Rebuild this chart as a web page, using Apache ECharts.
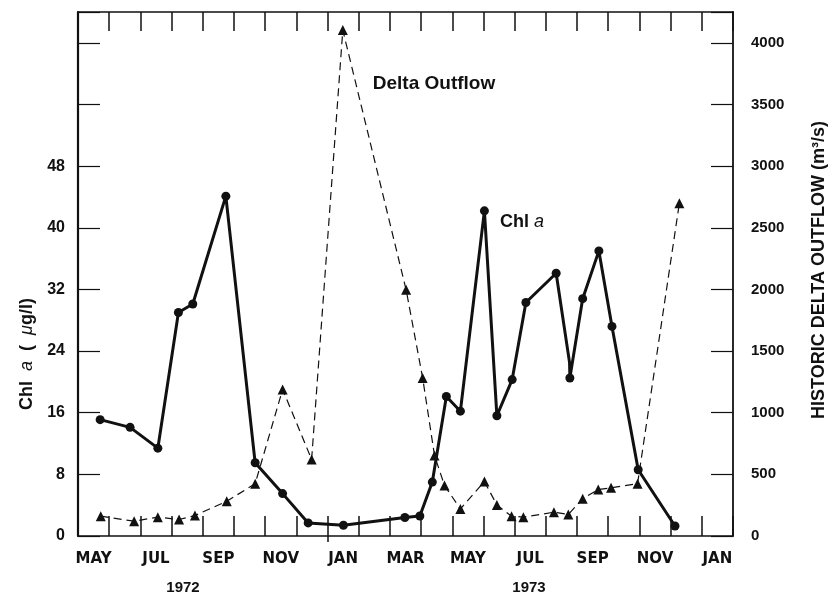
<!DOCTYPE html>
<html>
<head>
<meta charset="utf-8">
<script src="https://cdn.jsdelivr.net/npm/echarts@6/dist/echarts.min.js"></script>
<style>html,body{margin:0;padding:0;background:#fff}#c{width:835px;height:596px}</style>
</head>
<body>
<div id="c"></div>
<script>
// Month categories (May 1972 .. Jan 1974), x = months since 1 May 1972
const monthCats = ['MAY','JUN','JUL','AUG','SEP','OCT','NOV','DEC','JAN','FEB','MAR','APR','MAY','JUN','JUL','AUG','SEP','OCT','NOV','DEC','JAN'];
const yearLabels = ['1972', '1973'];
const leftTicks = [0, 8, 16, 24, 32, 40, 48];
const rightTicks = [0, 500, 1000, 1500, 2000, 2500, 3000, 3500, 4000];

// Chl a (ug/l)
const chlMonths = [0.71, 1.67, 2.56, 3.22, 3.68, 4.74, 5.68, 6.56, 7.38, 8.51, 10.48, 10.96, 11.36, 11.81, 12.26, 13.03, 13.43, 13.92, 14.36, 15.33, 15.76, 15.77, 16.18, 16.70, 17.12, 17.96, 19.14];
const chlValues = [15.1, 14.1, 11.4, 29.0, 30.1, 44.1, 9.5, 5.5, 1.7, 1.4, 2.4, 2.6, 7.0, 18.1, 16.2, 42.2, 15.6, 20.3, 30.3, 34.1, 22.5, 20.5, 30.8, 37.0, 27.2, 8.6, 1.3];

// Historic Delta outflow (m3/s)
const flowMonths = [0.73, 1.80, 2.56, 3.24, 3.75, 4.77, 5.68, 6.56, 7.49, 8.49, 10.52, 11.05, 11.43, 11.75, 12.26, 13.03, 13.43, 13.90, 14.28, 15.26, 15.72, 16.18, 16.68, 17.09, 17.94, 19.28];
const flowValues = [161, 120, 153, 134, 166, 282, 424, 1189, 621, 4103, 1997, 1282, 653, 410, 219, 442, 252, 161, 153, 193, 175, 302, 377, 391, 424, 2698];

const FONT = '"Liberation Sans", Arial, sans-serif';
const WIDE = '"DejaVu Sans", sans-serif';
const INK = '#111';

const chlData = chlMonths.map((m, i) => {
  const item = { value: [m, chlValues[i]] };
  // intermediate vertex of the notch in Sep 1973: no marker
  if (i > 0 && Math.abs(chlMonths[i + 1] - m) < 0.05) item.symbol = 'none';
  return item;
});
const flowData = flowMonths.map((m, i) => [m, flowValues[i]]);

const chart = echarts.init(document.getElementById('c'), null, { renderer: 'canvas' });
const labelStyle = { color: INK, fontFamily: FONT, fontWeight: 'bold', fontSize: 15 };

chart.setOption({
  animation: false,
  backgroundColor: '#fff',
  grid: { left: 78, right: 102, top: 12, bottom: 60, containLabel: false },
  xAxis: [
    {
      type: 'value', min: 0, max: 21, position: 'bottom',
      axisLine: { show: false },
      axisLabel: { show: false },
      splitLine: { show: false },
      axisTick: { show: true, customValues: [8], inside: false, length: 6, lineStyle: { color: INK, width: 1.5 } }
    },
    {
      type: 'category', data: monthCats, boundaryGap: true, position: 'bottom',
      axisLine: { show: true, lineStyle: { color: INK, width: 1.5 } },
      axisTick: { show: true, inside: true, length: 20, interval: 0, lineStyle: { color: INK, width: 1.5 } },
      axisLabel: { interval: 1, margin: 16, color: INK, fontFamily: WIDE, fontWeight: 'bold', fontSize: 15 },
      splitLine: { show: false }
    },
    {
      type: 'category', data: monthCats, boundaryGap: true, position: 'top',
      axisLine: { show: true, lineStyle: { color: INK, width: 1.5 } },
      axisTick: { show: true, inside: true, length: 19, interval: 0, lineStyle: { color: INK, width: 1.5 } },
      axisLabel: { show: false },
      splitLine: { show: false }
    }
  ],
  yAxis: [
    {
      type: 'value', min: 0, max: 68, interval: 8, position: 'left',
      axisLine: { show: true, lineStyle: { color: INK, width: 2.2 } },
      axisTick: { show: true, inside: true, length: 22, lineStyle: { color: INK, width: 1.2 } },
      axisLabel: Object.assign({ margin: 13, formatter: v => (leftTicks.indexOf(v) >= 0 ? String(v) : '') }, labelStyle, { fontSize: 16 }),
      splitLine: { show: false }
    },
    {
      type: 'value', min: 0, max: 4250, interval: 500, position: 'right',
      axisLine: { show: true, lineStyle: { color: INK, width: 1.8 } },
      axisTick: { show: true, inside: true, length: 22, lineStyle: { color: INK, width: 1.2 } },
      axisLabel: Object.assign({ margin: 18, formatter: v => (rightTicks.indexOf(v) >= 0 ? String(v) : '') }, labelStyle),
      splitLine: { show: false }
    }
  ],
  series: [
    {
      name: 'Delta Outflow', type: 'line', xAxisIndex: 0, yAxisIndex: 1,
      data: flowData, symbol: 'triangle', symbolSize: 10,
      lineStyle: { color: INK, width: 1.2, type: [8, 5] },
      itemStyle: { color: INK }, z: 3
    },
    {
      name: 'Chl a', type: 'line', xAxisIndex: 0, yAxisIndex: 0,
      data: chlData, symbol: 'circle', symbolSize: 9,
      lineStyle: { color: INK, width: 3 },
      itemStyle: { color: INK }, z: 4
    }
  ],
  graphic: [
    {
      type: 'text', x: 27, y: 354, rotation: Math.PI / 2,
      style: {
        text: '{n|Chl  }{i|a}{n|  (  }{i|μ}{n|g/l)}',
        align: 'center', verticalAlign: 'middle',
        rich: {
          n: { fontFamily: FONT, fontSize: 18, fontWeight: 'bold', fill: INK },
          i: { fontFamily: FONT, fontSize: 18, fontStyle: 'italic', fill: INK }
        }
      }
    },
    {
      type: 'text', x: 819, y: 270, rotation: Math.PI / 2,
      style: { text: 'HISTORIC DELTA OUTFLOW (m³/s)', align: 'center', verticalAlign: 'middle',
        font: 'bold 18px ' + FONT, fill: INK }
    },
    {
      type: 'text', x: 434, y: 84,
      style: { text: 'Delta Outflow', align: 'center', verticalAlign: 'middle', font: 'bold 19px ' + FONT, fill: INK }
    },
    {
      type: 'text', x: 522, y: 222,
      style: {
        text: '{n|Chl }{i|a}', align: 'center', verticalAlign: 'middle',
        rich: {
          n: { fontFamily: FONT, fontSize: 18, fontWeight: 'bold', fill: INK },
          i: { fontFamily: FONT, fontSize: 18, fontStyle: 'italic', fill: INK }
        }
      }
    },
    {
      type: 'text', x: 183, y: 588,
      style: { text: yearLabels[0], align: 'center', verticalAlign: 'middle', font: 'bold 15px ' + FONT, fill: INK }
    },
    {
      type: 'text', x: 529, y: 588,
      style: { text: yearLabels[1], align: 'center', verticalAlign: 'middle', font: 'bold 15px ' + FONT, fill: INK }
    }
  ]
});
</script>
</body>
</html>
